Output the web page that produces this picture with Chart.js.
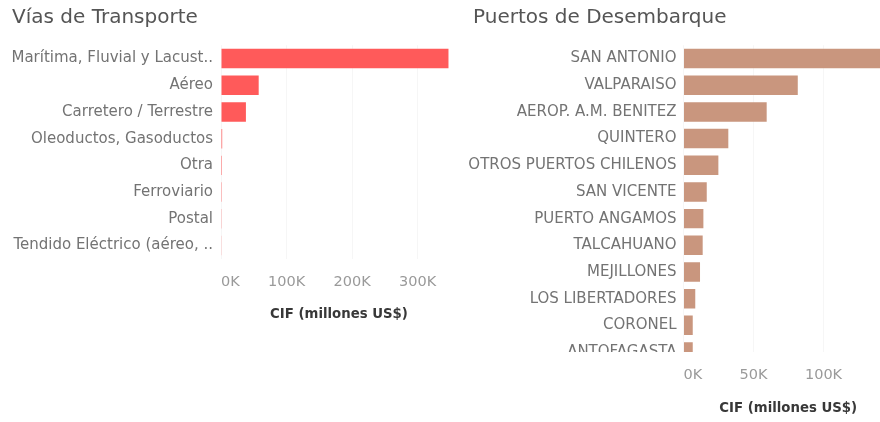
<!DOCTYPE html>
<html>
<head>
<meta charset="utf-8">
<script src="https://cdn.jsdelivr.net/npm/chart.js@4.4.1/dist/chart.umd.min.js"></script>
<style>
  html, body { margin: 0; padding: 0; background: #fff; }
  body { width: 880px; height: 422px; position: relative; overflow: hidden; }
  .panel { position: absolute; top: 0; height: 422px; }
  #left { left: 0; width: 460px; }
  #right { left: 460px; width: 433px; }
</style>
</head>
<body>
<div class="panel" id="left"><canvas id="vias"></canvas></div>
<div class="panel" id="right"><canvas id="puertos"></canvas></div>
<script>
// Imports CIF by transport mode (millones US$)
const viaLabels = [
  'Marítima, Fluvial y Lacust..', 'Aéreo', 'Carretero / Terrestre',
  'Oleoductos, Gasoductos', 'Otra', 'Ferroviario', 'Postal', 'Tendido Eléctrico (aéreo, ..'
];
const viaValues = [347000, 57500, 38000, 1800, 1500, 1300, 1100, 1000];
const viaTicks = [0, 100000, 200000, 300000];
const viaMax = 360000;

// Imports CIF by port of entry (millones US$)
const puertoLabels = [
  'SAN ANTONIO', 'VALPARAISO', 'AEROP. A.M. BENITEZ', 'QUINTERO', 'OTROS PUERTOS CHILENOS',
  'SAN VICENTE', 'PUERTO ANGAMOS', 'TALCAHUANO', 'MEJILLONES', 'LOS LIBERTADORES',
  'CORONEL', 'ANTOFAGASTA'
];
const puertoValues = [158000, 81600, 59400, 32000, 24900, 16600, 14200, 13700, 11800, 8400, 6600, 6600];
const puertoTicks = [0, 50000, 100000];
const puertoMax = 149600;

const FONT = '"DejaVu Sans", "Open Sans", sans-serif';
const kFmt = v => (v / 1000) + 'K';

// x-axis ticks: the listed values plus an unlabeled one at the axis end,
// so 'inner' alignment only pulls the first label inside
function xTicks(values, max) {
  return function (scale) {
    scale.ticks = values.concat([max]).map(v => ({ value: v }));
  };
}

function xScale(values, max, titleText) {
  return {
    type: 'linear',
    position: 'bottom',
    min: 0,
    max: max,
    afterBuildTicks: xTicks(values, max),
    border: { display: false },
    grid: {
      drawTicks: true,
      tickLength: 14.7,
      tickColor: 'rgba(0,0,0,0)',
      color: ctx => (ctx.tick && ctx.tick.value === max) ? 'rgba(0,0,0,0)' : 'rgba(0,0,0,0.035)',
      lineWidth: 1
    },
    ticks: {
      autoSkip: false,
      maxRotation: 0,
      align: 'inner',
      padding: 0,
      color: '#9a9a9a',
      font: { family: FONT, size: 14.5 },
      callback: v => (v === max ? '' : kFmt(v))
    },
    title: {
      display: true,
      text: titleText,
      color: '#383838',
      font: { family: FONT, size: 13.3, weight: 'bold' },
      padding: { top: 16, bottom: 0 }
    }
  };
}

function titleOpts(text) {
  return {
    display: true,
    text: text,
    align: 'start',
    color: '#555',
    font: { family: FONT, size: 20, weight: 'normal' },
    padding: { top: 5.5, bottom: 15.7 }
  };
}

// Indents the chart title from the canvas edge without narrowing the label column
const titleIndent = {
  id: 'titleIndent',
  afterLayout(chart, args, opts) {
    if (chart.titleBlock) chart.titleBlock.left += opts.indent || 0;
  }
};

const common = {
  indexAxis: 'y',
  responsive: true,
  maintainAspectRatio: false,
  animation: false
};

// Left panel: modes of transport
new Chart(document.getElementById('vias'), {
  type: 'bar',
  data: {
    labels: viaLabels,
    datasets: [{
      data: viaValues,
      backgroundColor: '#FF5A5A',
      barPercentage: 0.73,
      categoryPercentage: 1.0
    }]
  },
  plugins: [titleIndent],
  options: Object.assign({}, common, {
    layout: { padding: { left: 0, right: 3, top: 0, bottom: 99.1 } },
    plugins: {
      legend: { display: false },
      tooltip: { enabled: false },
      title: titleOpts('Vías de Transporte'),
      titleIndent: { indent: 12 }
    },
    scales: {
      x: xScale(viaTicks, viaMax, 'CIF (millones US$)'),
      y: {
        type: 'category',
        afterFit: s => { s.width = 221; },
        border: { display: false },
        grid: { display: false, drawTicks: false },
        ticks: { padding: 8, color: '#737373', font: { family: FONT, size: 15 } }
      }
    }
  })
});

// Right panel: the list continues below the visible window, so rows past
// the cut line are clipped away along with their labels
const cutRows = {
  id: 'cutRows',
  beforeDraw(chart) {
    const ctx = chart.ctx;
    const a = chart.chartArea;
    ctx.save();
    ctx.beginPath();
    ctx.rect(0, 0, chart.width, a.bottom);
    ctx.rect(a.left - 1, a.bottom + 1, chart.width, chart.height);
    ctx.clip();
  },
  afterDraw(chart) {
    chart.ctx.restore();
  }
};

new Chart(document.getElementById('puertos'), {
  type: 'bar',
  data: {
    datasets: [{
      data: puertoValues.map((v, i) => ({ x: v, y: i })),
      backgroundColor: '#C9967E',
      barPercentage: 0.73,
      categoryPercentage: 1.0
    }]
  },
  plugins: [cutRows, titleIndent],
  options: Object.assign({}, common, {
    layout: { padding: { left: 0, right: 0, top: 0, bottom: 5.9 } },
    plugins: {
      legend: { display: false },
      tooltip: { enabled: false },
      title: titleOpts('Puertos de Desembarque'),
      titleIndent: { indent: 13 }
    },
    scales: {
      x: xScale(puertoTicks, puertoMax, 'CIF (millones US$)'),
      y: {
        type: 'linear',
        reverse: true,
        offset: false,
        min: -0.5,
        max: 11,
        afterBuildTicks: s => { s.ticks = puertoLabels.map((_, i) => ({ value: i })); },
        afterFit: s => { s.width = 223.5; },
        border: { display: false },
        grid: { display: false, drawTicks: false, offset: false },
        ticks: {
          autoSkip: false,
          padding: 7,
          color: '#737373',
          font: { family: FONT, size: 15 },
          callback: v => puertoLabels[v] || ''
        }
      }
    }
  })
});
</script>
</body>
</html>
